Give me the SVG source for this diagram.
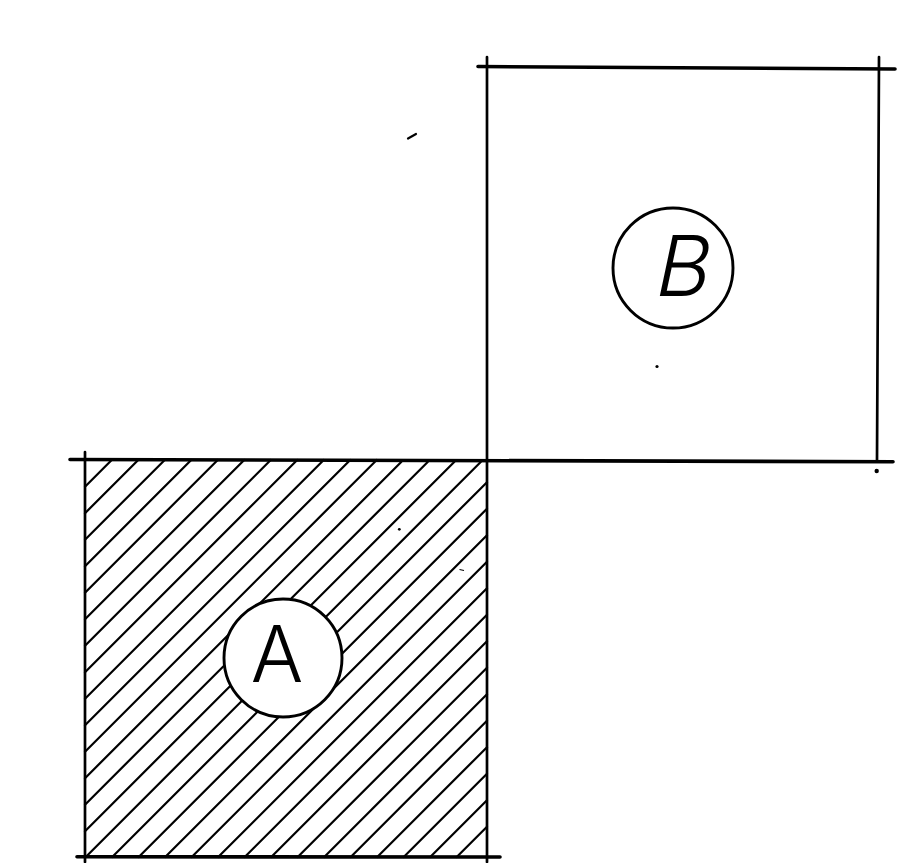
<svg xmlns="http://www.w3.org/2000/svg" width="901" height="863" viewBox="0 0 901 863">
  <style>
    .edge { stroke: #000; stroke-linecap: round; fill: none; }
    .h { stroke: #000; stroke-width: 2.2; stroke-linecap: round; }
    .v { stroke-width: 2.7; }
    .hz { stroke-width: 3.6; }
    .ring { fill: #fff; stroke: #000; stroke-width: 2.9; }
    .lbl { font-family: Inter, Roboto, "Open Sans", "DejaVu Sans", sans-serif; fill: #000; text-anchor: middle; }
    .speck { fill: #000; }
  </style>
  <rect width="901" height="863" fill="#fff"/>

  <g id="square-A">
    <g id="hatch-A">
      <line class="h" x1="85" y1="486.7" x2="111.7" y2="460"/>
      <line class="h" x1="85" y1="513.2" x2="138.2" y2="460"/>
      <line class="h" x1="85" y1="539.7" x2="164.7" y2="460"/>
      <line class="h" x1="85" y1="566.2" x2="191.2" y2="460"/>
      <line class="h" x1="85" y1="592.7" x2="217.7" y2="460"/>
      <line class="h" x1="85" y1="619.2" x2="244.2" y2="460"/>
      <line class="h" x1="85" y1="645.7" x2="270.7" y2="460"/>
      <line class="h" x1="85" y1="672.2" x2="297.2" y2="460"/>
      <line class="h" x1="85" y1="698.7" x2="323.7" y2="460"/>
      <line class="h" x1="85" y1="725.2" x2="350.2" y2="460"/>
      <line class="h" x1="85" y1="751.7" x2="376.7" y2="460"/>
      <line class="h" x1="85" y1="778.2" x2="401.2" y2="462"/>
      <line class="h" x1="85" y1="804.7" x2="427.7" y2="462"/>
      <line class="h" x1="85" y1="831.2" x2="454.2" y2="462"/>
      <line class="h" x1="86" y1="856.7" x2="480.7" y2="462"/>
      <line class="h" x1="112.2" y1="857" x2="487" y2="482.2"/>
      <line class="h" x1="138.7" y1="857" x2="487" y2="508.7"/>
      <line class="h" x1="165.2" y1="857" x2="487" y2="535.2"/>
      <line class="h" x1="191.7" y1="857" x2="487" y2="561.7"/>
      <line class="h" x1="218.2" y1="857" x2="487" y2="588.2"/>
      <line class="h" x1="244.7" y1="857" x2="487" y2="614.7"/>
      <line class="h" x1="271.2" y1="857" x2="487" y2="641.2"/>
      <line class="h" x1="297.7" y1="857" x2="487" y2="667.7"/>
      <line class="h" x1="324.2" y1="857" x2="487" y2="694.2"/>
      <line class="h" x1="350.7" y1="857" x2="487" y2="720.7"/>
      <line class="h" x1="377.2" y1="857" x2="487" y2="747.2"/>
      <line class="h" x1="403.7" y1="857" x2="487" y2="773.7"/>
      <line class="h" x1="430.2" y1="857" x2="487" y2="800.2"/>
      <line class="h" x1="456.7" y1="857" x2="487" y2="826.7"/>
    </g>
    <line class="edge v" x1="85" y1="452" x2="85" y2="862"/>
    <line class="edge hz" x1="77" y1="856.7" x2="500" y2="857"/>
  </g>

  <g id="square-B">
    <line class="edge hz" x1="478" y1="66.5" x2="895" y2="69"/>
    <line class="edge v" x1="879" y1="57" x2="877" y2="461"/>
  </g>

  <g id="shared-edges">
    <line class="edge hz" x1="70" y1="459.5" x2="893" y2="461.7"/>
    <line class="edge v" x1="487" y1="57" x2="487" y2="862"/>
  </g>

  <g id="node-A">
    <circle class="ring" cx="283" cy="658" r="59"/>
    <text class="lbl" x="277" y="682" font-size="78" font-weight="260">A</text>
  </g>

  <g id="node-B">
    <circle class="ring" cx="673" cy="268" r="60"/>
    <text class="lbl" transform="translate(679,296) skewX(-12)" x="0" y="0" font-size="84" font-weight="360">B</text>
  </g>

  <g id="specks">
    <line x1="408" y1="138.5" x2="416" y2="134" stroke="#000" stroke-width="2.2" stroke-linecap="round"/>
    <circle class="speck" cx="657" cy="366.5" r="1.6"/>
    <circle class="speck" cx="876.7" cy="471" r="2.2"/>
    <circle class="speck" cx="399.3" cy="529.3" r="1.4"/>
    <line x1="459.5" y1="569.5" x2="464" y2="570.5" stroke="#000" stroke-width="1.2"/>
  </g>
</svg>
